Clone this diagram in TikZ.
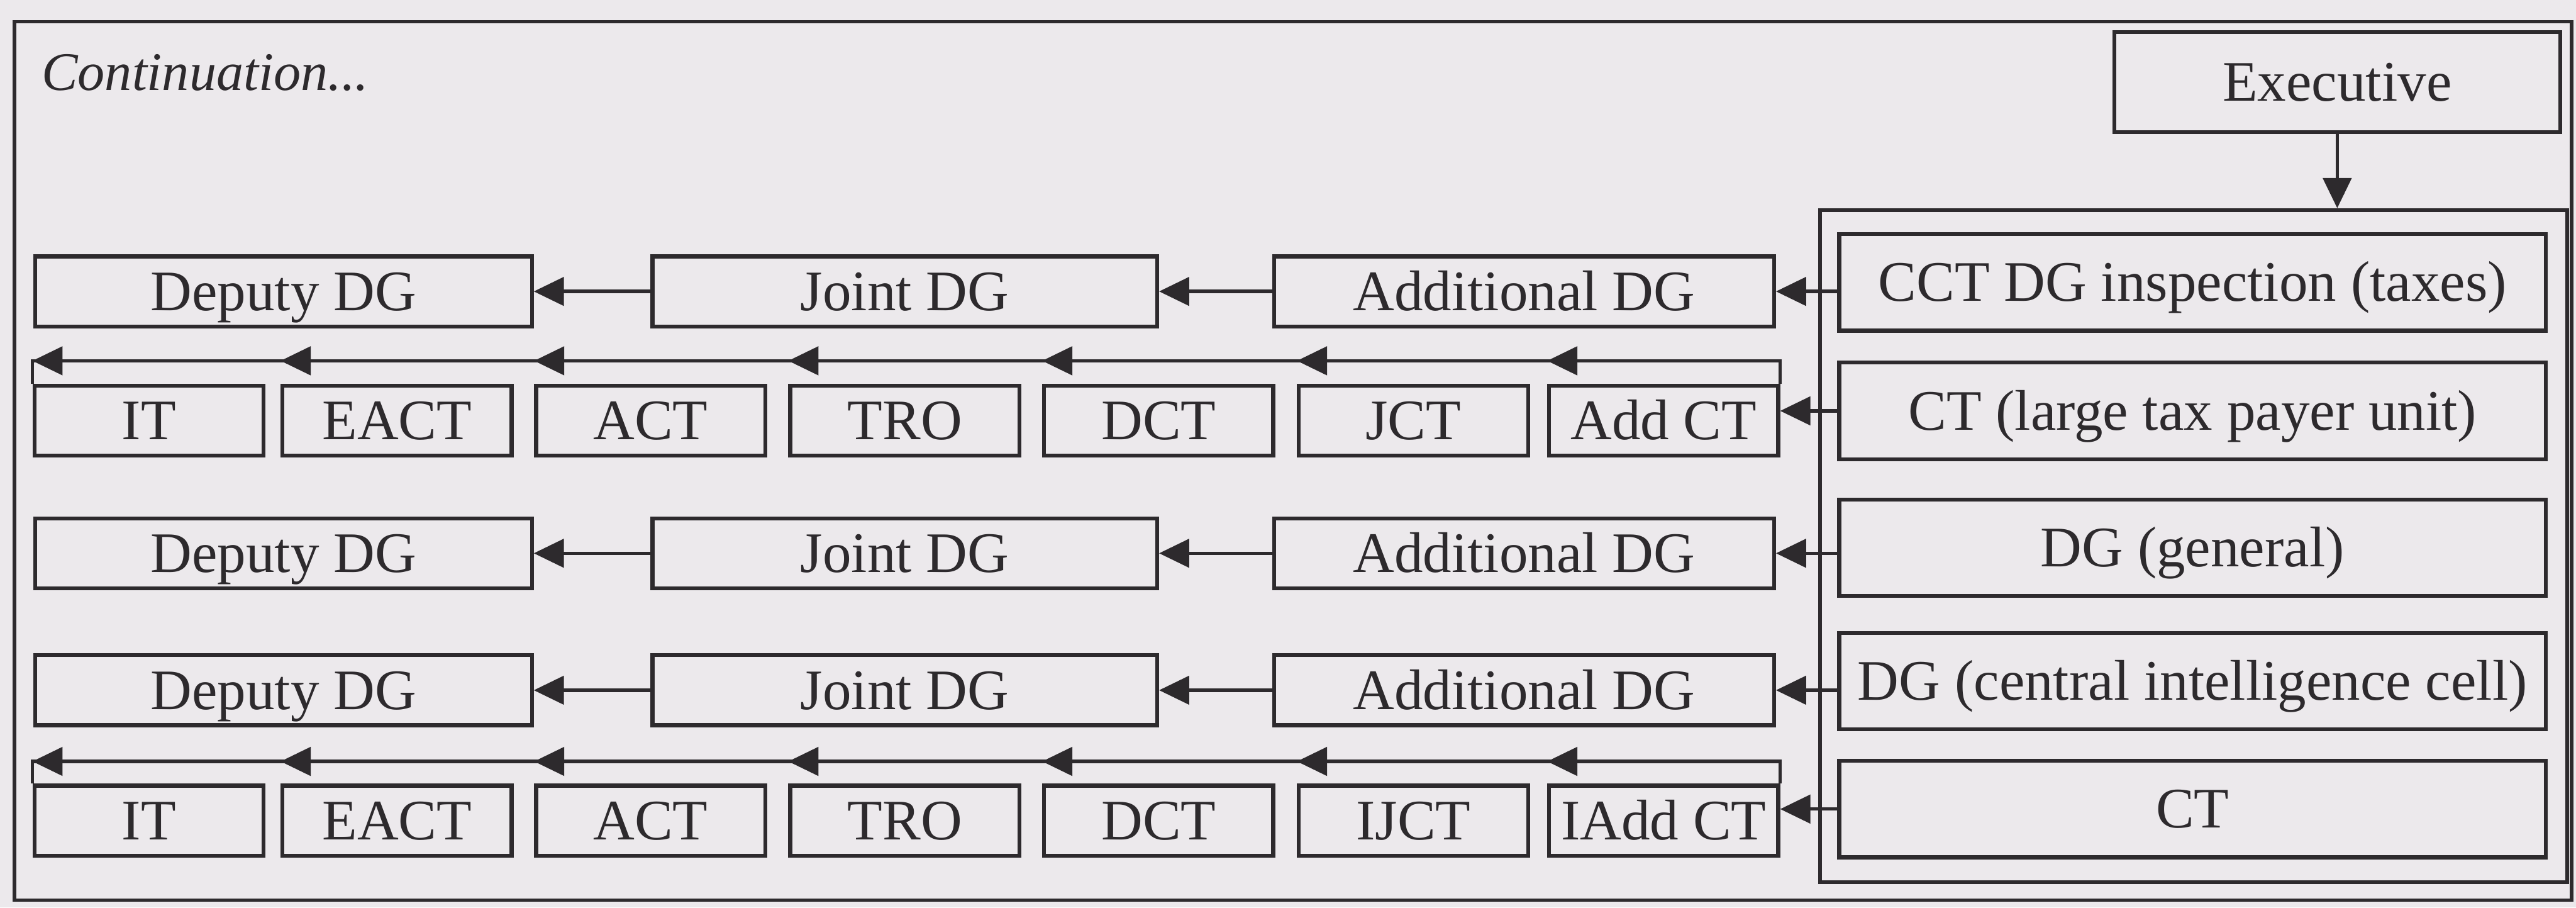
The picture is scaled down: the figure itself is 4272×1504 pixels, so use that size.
\documentclass[tikz,border=0pt]{standalone}
\usepackage{fontspec}
\setmainfont{Liberation Serif}
\usetikzlibrary{arrows.meta,calc}
\definecolor{paper}{RGB}{236,233,236}
\definecolor{ink}{RGB}{45,42,45}
\begin{document}
\begin{tikzpicture}[x=0.1pt,y=-0.1pt,
  bx/.style={draw=ink, line width=0.65pt, inner sep=0pt, text=ink,
    font=\fontsize{9.5pt}{11pt}\selectfont, text height=6.3pt, text depth=0pt},
  big/.style={bx, minimum height=11.6pt},
  small/.style={bx, minimum width=38pt, minimum height=11.6pt},
  rbox/.style={bx, minimum width=117.2pt, minimum height=16pt},
  ln/.style={draw=ink, line width=0.55pt},
  arr/.style={ln, -{Triangle[length=5pt,width=4.7pt]}}]
\fill[paper] (0,0) rectangle (4272,1504);
\useasboundingbox (0,0) rectangle (4272,1504);
\draw[ink, line width=0.6pt] (24,36) rectangle (4265,1492);
\node[anchor=base west, text=ink, inner sep=0pt,
  font=\fontsize{9pt}{11pt}\selectfont\itshape] (cont) at (67,150) {Continuation...};
% right side
\node[bx, minimum width=74pt, minimum height=16.6pt] (exec) at (3876,136) {Executive};
\node[draw=ink, line width=0.6pt, inner sep=0pt, minimum width=123.9pt,
  minimum height=111.4pt] (panel) at (3637.5,905) {};
\node[rbox] (r1) at (3636,468) {CCT DG inspection (taxes)};
\node[rbox] (r2) at (3636,681) {CT (large tax payer unit)};
\node[rbox] (r3) at (3636,908) {DG (general)};
\node[rbox] (r4) at (3636,1129) {DG (central intelligence cell)};
\node[rbox] (r5) at (3636,1341) {CT};
% big rows
\node[big, minimum width=82.4pt] (dep1) at (470,483) {Deputy DG};
\node[big, minimum width=83.7pt] (joint1) at (1500.5,483) {Joint DG};
\node[big, minimum width=82.9pt] (add1) at (2527.5,483) {Additional DG};
\node[big, minimum width=82.4pt] (dep3) at (470,917) {Deputy DG};
\node[big, minimum width=83.7pt] (joint3) at (1500.5,917) {Joint DG};
\node[big, minimum width=82.9pt] (add3) at (2527.5,917) {Additional DG};
\node[big, minimum width=82.4pt] (dep4) at (470,1144) {Deputy DG};
\node[big, minimum width=83.7pt] (joint4) at (1500.5,1144) {Joint DG};
\node[big, minimum width=82.9pt] (add4) at (2527.5,1144) {Additional DG};
% small rows
\node[small] (itA) at (247,697) {IT};
\node[small] (eactA) at (658.5,697) {EACT};
\node[small] (actA) at (1079,697) {ACT};
\node[small] (troA) at (1500.5,697) {TRO};
\node[small] (dctA) at (1921.5,697) {DCT};
\node[small] (jctA) at (2344,697) {JCT};
\node[small] (addctA) at (2759,697) {Add CT};
\node[small] (itB) at (247,1360) {IT};
\node[small] (eactB) at (658.5,1360) {EACT};
\node[small] (actB) at (1079,1360) {ACT};
\node[small] (troB) at (1500.5,1360) {TRO};
\node[small] (dctB) at (1921.5,1360) {DCT};
\node[small] (jctB) at (2344,1360) {IJCT};
\node[small] (addctB) at (2759,1360) {IAdd CT};
\coordinate (lineA) at (0,598);
\coordinate (lineB) at (0,1262);
% connectors
\draw[arr] (exec.south) -- (exec.south |- panel.north);
\draw[arr] (r1.west |- add1.east) -- (add1.east);
\draw[arr] (r2.west) -- (r2.west -| addctA.east);
\draw[arr] (r3.west |- add3.east) -- (add3.east);
\draw[arr] (r4.west |- add4.east) -- (add4.east);
\draw[arr] (r5.west) -- (r5.west -| addctB.east);
\foreach \r in {1,3,4}{
  \draw[arr] (add\r.west) -- (joint\r.east);
  \draw[arr] (joint\r.west) -- (dep\r.east);
}
\draw[ln] (addctA.north east) -- (addctA.north east |- lineA) -- (itA.north west |- lineA) -- (itA.north west);
\draw[ln] (addctB.north east) -- (addctB.north east |- lineB) -- (itB.north west |- lineB) -- (itB.north west);
\foreach \n in {itA,eactA,actA,troA,dctA,jctA,addctA}{
  \draw[arr] ($(\n.north west |- lineA)+(60,0)$) -- (\n.north west |- lineA);
}
\foreach \n in {itB,eactB,actB,troB,dctB,jctB,addctB}{
  \draw[arr] ($(\n.north west |- lineB)+(60,0)$) -- (\n.north west |- lineB);
}
\end{tikzpicture}
\end{document}
